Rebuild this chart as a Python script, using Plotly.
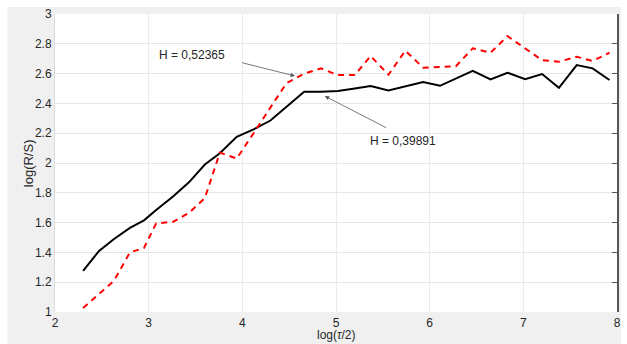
import plotly.graph_objects as go

# data
x_vals = [2.30, 2.47, 2.63, 2.80, 2.95, 3.08, 3.26, 3.43, 3.60, 3.76, 3.94, 4.12, 4.30,
          4.47, 4.66, 4.84, 5.02, 5.20, 5.37, 5.56, 5.74, 5.93, 6.11, 6.28, 6.46, 6.65,
          6.83, 7.02, 7.20, 7.38, 7.57, 7.74, 7.92]
black_vals = [1.276, 1.41, 1.49, 1.565, 1.615, 1.685, 1.775, 1.87, 1.99, 2.065, 2.176, 2.225, 2.285,
              2.378, 2.478, 2.478, 2.483, 2.50, 2.516, 2.487, 2.515, 2.543, 2.518, 2.565, 2.619, 2.561,
              2.606, 2.563, 2.597, 2.505, 2.657, 2.635, 2.557]
red_vals = [1.027, 1.12, 1.21, 1.40, 1.43, 1.595, 1.605, 1.665, 1.765, 2.07, 2.03, 2.20, 2.37,
            2.535, 2.60, 2.635, 2.59, 2.59, 2.718, 2.592, 2.754, 2.64, 2.645, 2.65, 2.77, 2.74,
            2.852, 2.77, 2.69, 2.68, 2.713, 2.685, 2.74]
x_ticks = [2, 3, 4, 5, 6, 7, 8]
y_ticks = [1, 1.2, 1.4, 1.6, 1.8, 2, 2.2, 2.4, 2.6, 2.8, 3]
y_tick_text = ["1", "1.2", "1.4", "1.6", "1.8", "2", "2.2", "2.4", "2.6", "2.8", "3"]
label_red = "H = 0,52365"
label_black = "H = 0,39891"
x_title = "log(<i>τ</i>/2)"
y_title = "log(R/S)"

W, H = 627, 344
ML, MR, MT, MB = 55, 6, 14, 32
pw, ph = W - ML - MR, H - MT - MB


def px_x(px):
    return (px - ML) / pw


def px_y(py):
    return (H - MB - py) / ph


fig = go.Figure()
fig.add_trace(go.Scatter(x=x_vals, y=black_vals, mode="lines",
                         line=dict(color="black", width=2), showlegend=False))
fig.add_trace(go.Scatter(x=x_vals, y=red_vals, mode="lines",
                         line=dict(color="#ff0000", width=2, dash="6px,5px"), showlegend=False))
# invisible trace for right-side box axis
fig.add_trace(go.Scatter(x=[x_ticks[0]], y=[y_ticks[0]], yaxis="y2", mode="markers",
                         marker=dict(opacity=0), showlegend=False, hoverinfo="skip"))

tick_font = dict(family="Liberation Sans, Arial, sans-serif", size=12, color="#262626")

fig.update_layout(
    width=W, height=H,
    margin=dict(l=ML, r=MR, t=MT, b=MB),
    paper_bgcolor="#f0f0f0",
    plot_bgcolor="white",
    font=tick_font,
    xaxis=dict(range=[2, 8], tickvals=x_ticks, ticktext=[str(v) for v in x_ticks],
               showgrid=True, gridcolor="#ebebeb", gridwidth=1, zeroline=False,
               showline=False, ticks="", tickfont=tick_font, ticklabelstandoff=2),
    yaxis=dict(range=[1, 3], tickvals=y_ticks, ticktext=y_tick_text,
               showgrid=True, gridcolor="#e6e6e6", gridwidth=1, zeroline=False,
               showline=True, linecolor="#dcdcdc", linewidth=1, ticks="", tickfont=tick_font),
    yaxis2=dict(range=[1, 3], overlaying="y", side="right", showgrid=False, zeroline=False,
                showline=True, linecolor="#555555", linewidth=2, ticks="inside", ticklen=5,
                tickcolor="#555555", tickvals=y_ticks, showticklabels=False),
    shapes=[
        dict(type="rect", xref="paper", yref="paper", x0=px_x(-5), x1=px_x(W + 5),
             y0=px_y(7), y1=px_y(-5), fillcolor="white", line=dict(width=0), layer="below"),
        dict(type="rect", xref="paper", yref="paper", x0=px_x(-5), x1=px_x(7),
             y0=px_y(H + 5), y1=px_y(-5), fillcolor="white", line=dict(width=0), layer="below"),
        dict(type="rect", xref="paper", yref="paper", x0=px_x(625), x1=px_x(W + 5),
             y0=px_y(H + 5), y1=px_y(-5), fillcolor="white", line=dict(width=0), layer="below"),
    ],
    annotations=[
        dict(x=4.562, y=2.584, ax=3.979, ay=2.676, xref="x", yref="y", axref="x", ayref="y",
             text="", showarrow=True, arrowhead=2, arrowsize=1.1, arrowwidth=0.8, arrowcolor="#555555"),
        dict(x=2.0 + (193 - 55) / 94.33, y=3 - (55 - 14) / 148.9, xref="x", yref="y",
             text=label_red, showarrow=False, font=dict(size=12, color="#262626")),
        dict(x=4.880, y=2.449, ax=5.551, ay=2.232, xref="x", yref="y", axref="x", ayref="y",
             text="", showarrow=True, arrowhead=2, arrowsize=1.1, arrowwidth=0.8, arrowcolor="#555555"),
        dict(x=2.0 + (405 - 55) / 94.33, y=3 - (141 - 14) / 148.9, xref="x", yref="y",
             text=label_black, showarrow=False, font=dict(size=12, color="#262626")),
        dict(x=px_x(338), y=px_y(343), xref="paper", yref="paper", text=x_title,
             showarrow=False, xanchor="center", yanchor="bottom", borderpad=0,
             font=dict(size=12, color="#262626")),
        dict(x=px_x(28), y=px_y(163), xref="paper", yref="paper", text=y_title,
             showarrow=False, textangle=-90, xanchor="center", yanchor="middle",
             font=dict(size=13, color="#262626")),
    ],
)

fig.write_html("out.html")
